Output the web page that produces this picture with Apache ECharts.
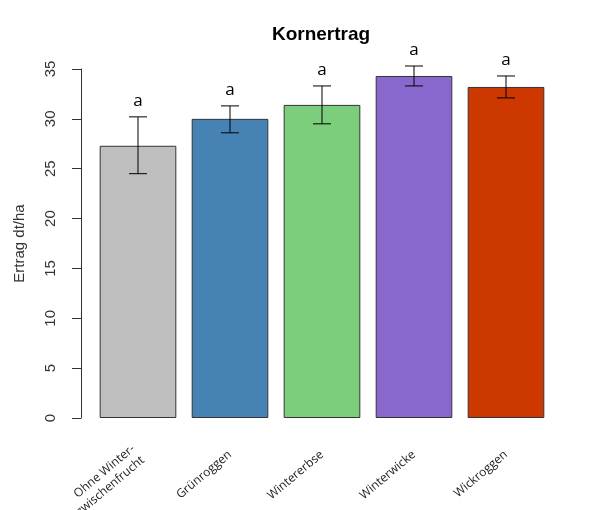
<!DOCTYPE html>
<html>
<head>
<meta charset="utf-8">
<script src="https://cdn.jsdelivr.net/npm/echarts@6/dist/echarts.min.js"></script>
<style>
  html, body { margin: 0; padding: 0; background: #ffffff; }
  #main { width: 594px; height: 510px; }
</style>
</head>
<body>
<div id="main"></div>
<script>
var categories = ['Ohne Winter-\nzwischenfrucht', 'Grünroggen', 'Wintererbse', 'Winterwicke', 'Wickroggen'];
var means = [27.3, 30.0, 31.4, 34.3, 33.2];
var lower = [24.5, 28.6, 29.5, 33.3, 32.1];
var upper = [30.2, 31.3, 33.3, 35.3, 34.3];
var letters = ['a', 'a', 'a', 'a', 'a'];
var barColors = ['#bebebe', '#4682b4', '#7ccd7c', '#8968cd', '#cd3700'];
var yTicks = [0, 5, 10, 15, 20, 25, 30, 35];

var chartDom = document.getElementById('main');
var myChart = echarts.init(chartDom);

var errData = categories.map(function (c, i) {
  return [i, lower[i], upper[i], letters[i]];
});

var option = {
  animation: false,
  title: {
    text: 'Kornertrag',
    left: 316,
    top: 20,
    textAlign: 'center',
    textStyle: { fontFamily: 'Liberation Sans', fontWeight: 'bold', fontSize: 19, color: '#000' }
  },
  grid: { left: 92, right: 42, top: 69, bottom: 92, containLabel: false, outerBoundsMode: 'none' },
  xAxis: {
    type: 'category',
    data: categories,
    axisLine: { show: false },
    axisTick: { show: false },
    axisLabel: {
      rotate: 40,
      interval: 0,
      margin: 35,
      fontFamily: 'Open Sans',
      fontSize: 12,
      color: '#222',
      lineHeight: 15
    }
  },
  yAxis: {
    type: 'value',
    min: yTicks[0],
    max: yTicks[yTicks.length - 1],
    interval: 5,
    offset: 11,
    name: 'Ertrag dt/ha',
    nameLocation: 'middle',
    nameGap: 54,
    nameRotate: 90,
    nameTextStyle: { fontFamily: 'Liberation Sans', fontSize: 15, color: '#333' },
    splitLine: { show: false },
    axisLine: { show: true, lineStyle: { color: '#333', width: 1 } },
    axisTick: { show: true, length: 9, lineStyle: { color: '#333' } },
    axisLabel: {
      rotate: 90,
      margin: 23,
      fontFamily: 'Liberation Sans',
      fontSize: 15,
      color: '#333'
    }
  },
  series: [
    {
      type: 'bar',
      data: means.map(function (v, i) {
        return { value: v, itemStyle: { color: barColors[i] } };
      }),
      barCategoryGap: '16.7%',
      itemStyle: { borderColor: '#333', borderWidth: 1 }
    },
    {
      type: 'custom',
      data: errData,
      z: 5,
      renderItem: function (params, api) {
        var lo = api.coord([api.value(0), api.value(1)]);
        var hi = api.coord([api.value(0), api.value(2)]);
        var cap = 9;
        var st = { stroke: '#000', lineWidth: 1 };
        return {
          type: 'group',
          children: [
            { type: 'line', shape: { x1: lo[0], y1: lo[1], x2: hi[0], y2: hi[1] }, style: st },
            { type: 'line', shape: { x1: hi[0] - cap, y1: hi[1], x2: hi[0] + cap, y2: hi[1] }, style: st },
            { type: 'line', shape: { x1: lo[0] - cap, y1: lo[1], x2: lo[0] + cap, y2: lo[1] }, style: st },
            {
              type: 'text',
              x: hi[0],
              y: hi[1] - 16,
              style: {
                text: letters[params.dataIndex],
                fontFamily: 'Open Sans',
                fontSize: 17,
                fill: '#000',
                align: 'center',
                verticalAlign: 'middle'
              }
            }
          ]
        };
      }
    }
  ]
};

option && myChart.setOption(option);
</script>
</body>
</html>
